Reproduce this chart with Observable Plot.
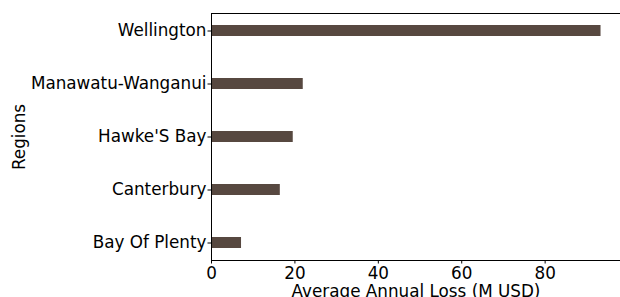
<!DOCTYPE html>
<html>
<head>
<meta charset="utf-8">
<script src="https://cdn.jsdelivr.net/npm/d3@7"></script>
<script src="https://cdn.jsdelivr.net/npm/@observablehq/plot@0.6"></script>
<style>
  html, body { margin: 0; padding: 0; background: #fff; overflow: hidden; }
</style>
</head>
<body>
<div id="chart"></div>
<script>
const regions = ["Wellington", "Manawatu-Wanganui", "Hawke'S Bay", "Canterbury", "Bay Of Plenty"];
const losses = [93.4, 22.0, 19.6, 16.5, 7.2];
const xTicks = [0, 20, 40, 60, 80];
const xLabel = "Average Annual Loss (M USD)";
const yLabel = "Regions";

const data = regions.map((r, i) => ({region: r, loss: losses[i]}));
const xMax = d3.max(losses) * 1.05;

const chart = Plot.plot({
  width: 620,
  height: 297,
  marginLeft: 211,
  marginRight: 0,
  marginTop: 13,
  marginBottom: 37,
  style: {fontFamily: "DejaVu Sans", fontSize: "16.8px", color: "#000", background: "#fff", overflow: "visible"},
  x: {domain: [0, xMax], ticks: xTicks, tickSize: 3.5, tickPadding: 3.5, label: null, tickFormat: d3.format("d")},
  y: {domain: regions, paddingInner: 0.8, paddingOuter: 0.21, tickSize: 3.5, tickPadding: 1.5, label: null},
  marks: [
    Plot.barX(data, {x: "loss", y: "region", fill: "#574840"}),
    Plot.frame({anchor: "top", stroke: "#000", strokeWidth: 1}),
    Plot.frame({anchor: "left", stroke: "#000", strokeWidth: 1}),
    Plot.frame({anchor: "bottom", stroke: "#000", strokeWidth: 1}),
    Plot.text([xLabel], {frameAnchor: "bottom", lineAnchor: "top", dy: 25, text: d => d, fontSize: 16.8, fill: "#000"}),
    Plot.text([yLabel], {frameAnchor: "left", dx: -192, rotate: -90, lineAnchor: "middle", textAnchor: "middle", text: d => d, fontSize: 16.8, fill: "#000"})
  ]
});
document.getElementById("chart").appendChild(chart);
</script>
</body>
</html>
